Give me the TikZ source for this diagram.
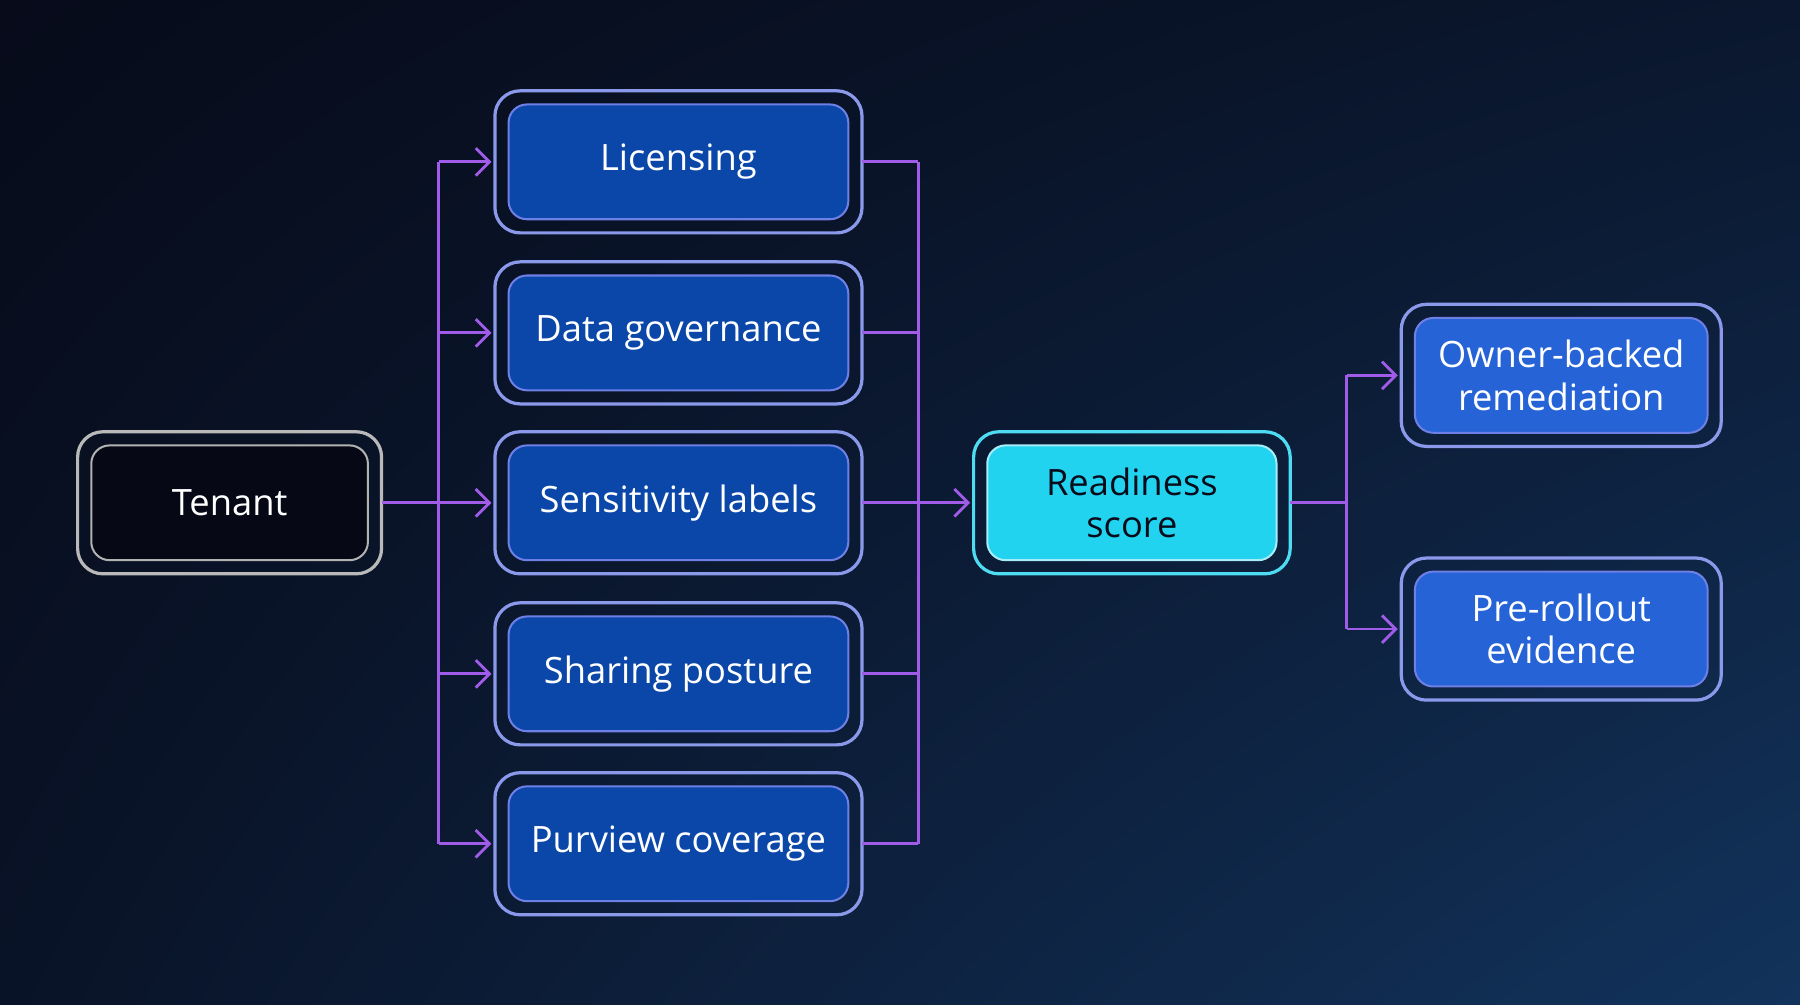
\documentclass[tikz,border=0pt]{standalone}
\usepackage{fontspec}
\setmainfont{Open Sans}
\usetikzlibrary{arrows.meta,calc,shadings}
\definecolor{bgdark}{HTML}{070B1A}
\definecolor{bgblue}{HTML}{12335C}
\definecolor{boxblue}{HTML}{0B47A8}
\definecolor{boxedge}{HTML}{6E7FE6}
\definecolor{lightblue}{HTML}{2563D6}
\definecolor{cyanfill}{HTML}{22D3F0}
\definecolor{linkpurple}{HTML}{A05CE8}
\begin{document}
\begin{tikzpicture}[
    box/.style={
        rectangle,
        rounded corners=1.6mm,
        draw=boxedge,
        line width=0.5pt,
        fill=boxblue,
        text=white,
        minimum height=1cm,
        align=center,
        font=\fontsize{9}{10.5}\selectfont
    },
    start/.style={
        box,
        fill=bgdark!80!black,
        draw=gray!60
    },
    result/.style={
        box,
        fill=cyanfill,
        draw=cyanfill!40!white,
        text=bgdark
    },
    outcome/.style={
        box,
        fill=lightblue
    },
    frame/.style={
        rounded corners=2.2mm,
        line width=0.8pt
    },
    link/.style={
        linkpurple,
        line width=0.7pt
    },
    arrow/.style={
        link,
        -{Straight Barb[length=1.2mm,width=2.4mm]},
        shorten >=0.14cm
    }
]
% Background
\shade[upper left=bgdark, lower left=bgdark!80!bgblue, upper right=bgdark!70!bgblue, lower right=bgblue]
    (0,0) rectangle (15.68,8.75);
\useasboundingbox (0,0) rectangle (15.68,8.75);

% Nodes
\node[start, minimum width=2.41cm] (tenant) at (2.00,4.37) {Tenant};

\node[box, minimum width=2.96cm] (lic) at (5.91,7.34) {Licensing};
\node[box, minimum width=2.96cm] (gov) at (5.91,5.85) {Data governance};
\node[box, minimum width=2.96cm] (sens) at (5.91,4.37) {Sensitivity labels};
\node[box, minimum width=2.96cm] (share) at (5.91,2.88) {Sharing posture};
\node[box, minimum width=2.96cm] (purv) at (5.91,1.40) {Purview coverage};

\node[result, minimum width=2.52cm] (score) at (9.86,4.37) {Readiness\\score};

\node[outcome, minimum width=2.55cm] (owner) at (13.60,5.48) {Owner-backed\\remediation};
\node[outcome, minimum width=2.55cm] (evid) at (13.60,3.27) {Pre-rollout\\evidence};

% Outer frames
\draw[frame, draw=gray!55] ($(tenant.south west)+(-0.11,-0.11)$) rectangle ($(tenant.north east)+(0.11,0.11)$);
\foreach \n in {lic,gov,sens,share,purv,owner,evid}
    \draw[frame, draw=boxedge!80] ($(\n.south west)+(-0.11,-0.11)$) rectangle ($(\n.north east)+(0.11,0.11)$);
\draw[frame, draw=cyanfill!80] ($(score.south west)+(-0.11,-0.11)$) rectangle ($(score.north east)+(0.11,0.11)$);

% Edges
\coordinate (b1) at (3.82,4.37);
\coordinate (b2) at (8.00,4.37);
\coordinate (b3) at (11.73,4.37);

\draw[link] ([xshift=0.11cm]tenant.east) -- (b1);
\draw[link] (b1 |- lic) -- (b1 |- purv);
\foreach \n in {lic,gov,sens,share,purv}
    \draw[arrow] (b1 |- \n) -- (\n.west);

\foreach \n in {lic,gov,sens,share,purv}
    \draw[link] ([xshift=0.11cm]\n.east) -- (b2 |- \n);
\draw[link] (b2 |- lic) -- (b2 |- purv);
\draw[arrow] (b2) -- (score.west);

\draw[link] ([xshift=0.11cm]score.east) -- (b3);
\draw[link] (b3 |- owner) -- (b3 |- evid);
\draw[arrow] (b3 |- owner) -- (owner.west);
\draw[arrow] (b3 |- evid) -- (evid.west);

\end{tikzpicture}
\end{document}
